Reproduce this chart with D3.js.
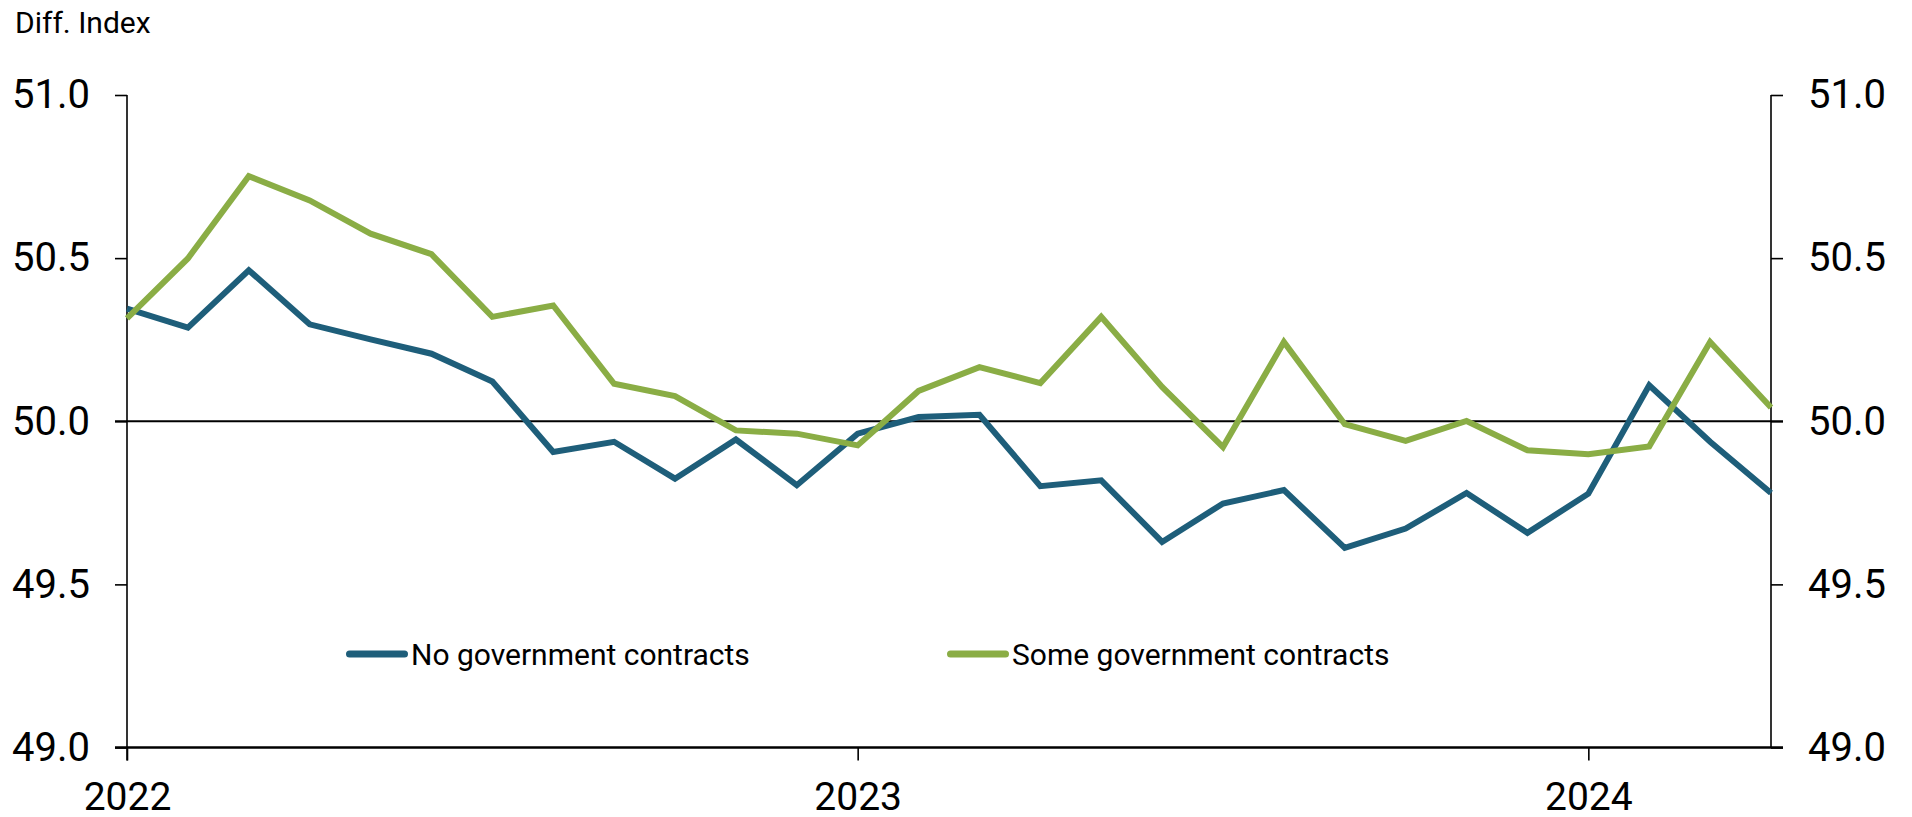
<!DOCTYPE html>
<html>
<head>
<meta charset="utf-8">
<script src="https://cdn.jsdelivr.net/npm/d3@7"></script>
<style>
  html, body { margin: 0; padding: 0; background: #ffffff; }
  svg { display: block; font-family: Roboto, "Liberation Sans", sans-serif; }
</style>
</head>
<body>
<svg id="chart" width="1912" height="817"></svg>
<script>
// Monthly observations, Jan 2022 – Apr 2024
const months = [
  "2022-01","2022-02","2022-03","2022-04","2022-05","2022-06",
  "2022-07","2022-08","2022-09","2022-10","2022-11","2022-12",
  "2023-01","2023-02","2023-03","2023-04","2023-05","2023-06",
  "2023-07","2023-08","2023-09","2023-10","2023-11","2023-12",
  "2024-01","2024-02","2024-03","2024-04"
];

// Diffusion index, firms with no government contracts
const noContracts = [
  50.345, 50.287, 50.463, 50.297, 50.251, 50.207,
  50.122, 49.906, 49.937, 49.824, 49.944, 49.804,
  49.962, 50.013, 50.020, 49.801, 49.819, 49.630,
  49.748, 49.789, 49.612, 49.671, 49.780, 49.658,
  49.778, 50.110, 49.937, 49.780
];

// Diffusion index, firms with some government contracts
const someContracts = [
  50.315, 50.499, 50.751, 50.677, 50.575, 50.512,
  50.320, 50.355, 50.115, 50.077, 49.972, 49.962,
  49.926, 50.093, 50.166, 50.117, 50.320, 50.105,
  49.921, 50.243, 49.991, 49.940, 50.001, 49.911,
  49.899, 49.923, 50.243, 50.042
];

const seriesNames = ["No government contracts", "Some government contracts"];
const seriesColors = ["#1e5e7a", "#8aad45"];

const yearTickMonths = ["2022-01", "2023-01", "2024-01"];
const yearTickLabels = ["2022", "2023", "2024"];
const yTicks = [49.0, 49.5, 50.0, 50.5, 51.0];
const yUnitLabel = "Diff. Index";

// ---- layout ----
const plotLeft = 127, plotRight = 1771, plotTop = 95, plotBottom = 747.5;
const tickLen = 12;

const svg = d3.select("#chart");

const x = d3.scalePoint().domain(months).range([plotLeft, plotRight]);
const y = d3.scaleLinear().domain([49, 51]).range([plotBottom, plotTop]);

const fmt = d3.format(".1f");

// left axis
const leftAxis = svg.append("g")
  .attr("transform", `translate(${plotLeft},0)`)
  .call(d3.axisLeft(y).tickValues(yTicks).tickFormat(fmt)
    .tickSize(tickLen).tickPadding(25));
leftAxis.select(".domain").remove();

// right axis
const rightAxis = svg.append("g")
  .attr("transform", `translate(${plotRight},0)`)
  .call(d3.axisRight(y).tickValues(yTicks).tickFormat(fmt)
    .tickSize(tickLen).tickPadding(25));
rightAxis.select(".domain").remove();

[leftAxis, rightAxis].forEach(g => {
  g.selectAll(".tick line").attr("stroke", "#000").attr("stroke-width", 1.6);
  g.selectAll(".tick text")
    .attr("fill", "#000")
    .style("font-size", "40px")
    .style("font-family", "Roboto, 'Liberation Sans', sans-serif");
});

// vertical axis lines
svg.append("line")
  .attr("x1", plotLeft).attr("x2", plotLeft)
  .attr("y1", y(51)).attr("y2", y(49) + tickLen + 1)
  .attr("stroke", "#000").attr("stroke-width", 1.6);
svg.append("line")
  .attr("x1", plotRight).attr("x2", plotRight)
  .attr("y1", y(51)).attr("y2", y(49))
  .attr("stroke", "#000").attr("stroke-width", 1.6);

// bottom axis (year ticks)
const bottomAxis = svg.append("g")
  .attr("transform", `translate(0,${plotBottom})`)
  .call(d3.axisBottom(x).tickValues(yearTickMonths)
    .tickFormat((d, i) => yearTickLabels[i])
    .tickSize(tickLen + 1).tickPadding(22));
bottomAxis.select(".domain").remove();
bottomAxis.selectAll(".tick line").attr("stroke", "#000").attr("stroke-width", 1.6);
bottomAxis.selectAll(".tick text")
  .attr("fill", "#000")
  .style("font-size", "39px")
  .style("font-family", "Roboto, 'Liberation Sans', sans-serif");

svg.append("line")
  .attr("x1", plotLeft - tickLen).attr("x2", plotRight + tickLen)
  .attr("y1", y(49)).attr("y2", y(49))
  .attr("stroke", "#000").attr("stroke-width", 2.6);

// reference line at 50
svg.append("line")
  .attr("x1", plotLeft - tickLen).attr("x2", plotRight + tickLen)
  .attr("y1", y(50)).attr("y2", y(50))
  .attr("stroke", "#000").attr("stroke-width", 1.8);

// unit label
svg.append("text")
  .attr("x", 15).attr("y", 33)
  .attr("fill", "#000")
  .style("font-size", "30px")
  .text(yUnitLabel);

// series lines
const line = d3.line()
  .x((d, i) => x(months[i]))
  .y(d => y(d));

[noContracts, someContracts].forEach((vals, k) => {
  svg.append("path")
    .datum(vals)
    .attr("d", line)
    .attr("fill", "none")
    .attr("stroke", seriesColors[k])
    .attr("stroke-width", 6)
    .attr("stroke-linejoin", "miter")
    .attr("stroke-miterlimit", 4);
});

// legend
const legendX = [349.5, 950.5];
const legendY = 654;
seriesNames.forEach((name, k) => {
  const g = svg.append("g").attr("transform", `translate(${legendX[k]},${legendY})`);
  g.append("line")
    .attr("x1", 0).attr("x2", 55).attr("y1", 0).attr("y2", 0)
    .attr("stroke", seriesColors[k])
    .attr("stroke-width", 7)
    .attr("stroke-linecap", "round");
  g.append("text")
    .attr("x", 61.5).attr("y", 11)
    .attr("fill", "#000")
    .style("font-size", "30px")
    .text(name);
});
</script>
</body>
</html>
